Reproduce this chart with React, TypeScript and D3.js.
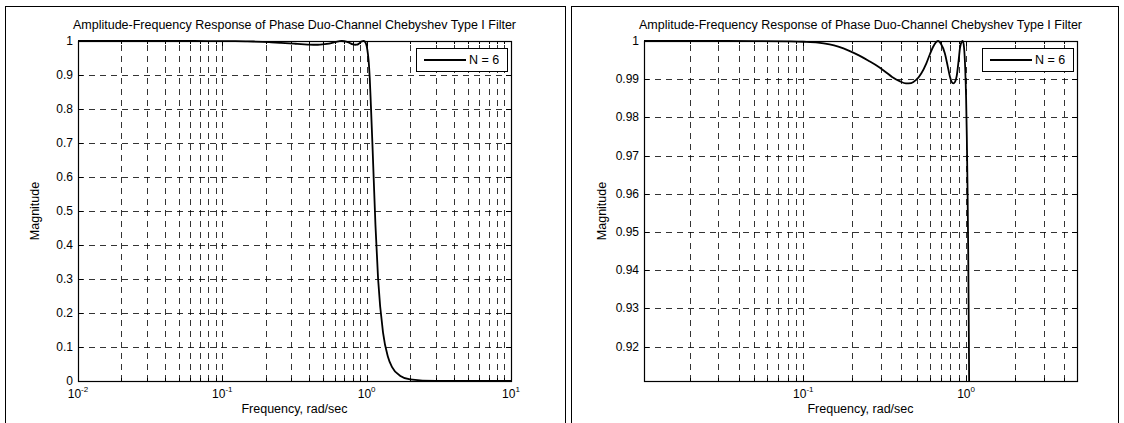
import React from 'react';
import * as d3 from 'd3';

// response (rad/sec -> magnitude)
const freq = [
  0.01, 0.02, 0.05, 0.08, 0.1, 0.123, 0.145, 0.164, 0.19, 0.218, 0.25, 0.291,
  0.32, 0.351, 0.39, 0.427, 0.46, 0.493, 0.53, 0.569, 0.6, 0.624, 0.65, 0.673,
  0.7, 0.74, 0.77, 0.795, 0.815, 0.834, 0.855, 0.875, 0.9, 0.918, 0.94, 0.954,
  0.97, 0.987, 1.0, 1.01, 1.02, 1.03, 1.04, 1.05, 1.07, 1.1, 1.15, 1.2, 1.3,
  1.4, 1.5, 1.7, 2.0, 3.0, 5.0, 10.0,
];
const magnitude = [
  1.0, 1.0, 0.99999, 0.9999, 0.9998, 0.9996, 0.9991, 0.9985, 0.9975, 0.9963,
  0.9949, 0.9932, 0.9919, 0.9906, 0.9895, 0.9889, 0.989, 0.9898, 0.9915,
  0.9941, 0.9966, 0.9983, 0.9996, 1.0, 0.9993, 0.9968, 0.9935, 0.9907, 0.9893,
  0.9889, 0.9893, 0.9908, 0.995, 0.9983, 0.9998, 1.0, 0.9985, 0.993, 0.985,
  0.975, 0.962, 0.945, 0.922, 0.892, 0.81, 0.68, 0.46, 0.3, 0.141, 0.073,
  0.041, 0.0157, 0.0049, 0.0003, 0.0, 0.0,
];

const title = 'Amplitude-Frequency Response of Phase Duo-Channel Chebyshev Type I Filter';
const xLabel = 'Frequency, rad/sec';
const yLabel = 'Magnitude';
const legendLabel = 'N = 6';

const fullTicks = [0, 0.1, 0.2, 0.3, 0.4, 0.5, 0.6, 0.7, 0.8, 0.9, 1];
const fullTickLabels = ['0', '0.1', '0.2', '0.3', '0.4', '0.5', '0.6', '0.7', '0.8', '0.9', '1'];
const zoomTicks = [0.92, 0.93, 0.94, 0.95, 0.96, 0.97, 0.98, 0.99, 1];
const zoomTickLabels = ['0.92', '0.93', '0.94', '0.95', '0.96', '0.97', '0.98', '0.99', '1'];

const FONT = '"Liberation Sans", Arial, Helvetica, sans-serif';
const crisp = (v: number) => Math.round(v) + 0.5;

type PanelProps = {
  id: string;
  frameX: number;
  frameW: number;
  left: number;
  ylabelX: number;
  xDomain: [number, number];
  yDomain: [number, number];
  yTicks: number[];
  yTickLabels: string[];
};

const Panel = ({ id, frameX, frameW, left, ylabelX, xDomain, yDomain, yTicks, yTickLabels }: PanelProps) => {
  const top = 41;
  const w = 433;
  const h = 340;
  const x = d3.scaleLog().domain(xDomain).range([left, left + w]);
  const y = d3.scaleLinear().domain(yDomain).range([top + h, top]);

  // decade + minor ticks of the log axis
  const logTicks: { v: number; major: boolean }[] = [];
  const e0 = Math.floor(Math.log10(xDomain[0]));
  const e1 = Math.ceil(Math.log10(xDomain[1]));
  for (let e = e0; e <= e1; e++) {
    for (let k = 1; k <= 9; k++) {
      const v = k * Math.pow(10, e);
      if (v >= xDomain[0] * 0.9999 && v <= xDomain[1] * 1.0001) logTicks.push({ v, major: k === 1 });
    }
  }

  const line = d3
    .line<number>()
    .x((_, i) => x(freq[i]))
    .y((d) => y(d))
    .curve(d3.curveMonotoneX);

  const bottom = top + h;
  const right = left + w;
  const lx = left + 338;
  const ly = 48;

  return (
    <g fontFamily={FONT} fill="#000">
      <defs>
        <clipPath id={id}>
          <rect x={left} y={top - 1} width={w} height={h + 2} />
        </clipPath>
      </defs>
      <rect x={frameX + 0.5} y={6.5} width={frameW} height={440} fill="none" stroke="#000" strokeWidth={1} />

      {/* grid */}
      <g stroke="#000" strokeWidth={0.8} strokeDasharray="6,5">
        {yTicks.map((t) => (
          <line key={'gy' + t} x1={left} x2={right} y1={crisp(y(t))} y2={crisp(y(t))} />
        ))}
        {logTicks.map((t) => (
          <line key={'gx' + t.v} x1={crisp(x(t.v))} x2={crisp(x(t.v))} y1={bottom} y2={top} />
        ))}
      </g>

      <path d={line(magnitude) || ''} fill="none" stroke="#000" strokeWidth={1.8} clipPath={`url(#${id})`} />

      {/* ticks */}
      <g stroke="#000" strokeWidth={1}>
        {yTicks.map((t) => (
          <g key={'ty' + t}>
            <line x1={left} x2={left + 5} y1={crisp(y(t))} y2={crisp(y(t))} />
            <line x1={right - 5} x2={right} y1={crisp(y(t))} y2={crisp(y(t))} />
          </g>
        ))}
        {logTicks.map((t) => (
          <g key={'tx' + t.v}>
            <line x1={crisp(x(t.v))} x2={crisp(x(t.v))} y1={bottom} y2={bottom - (t.major ? 5 : 3)} />
            <line x1={crisp(x(t.v))} x2={crisp(x(t.v))} y1={top} y2={top + (t.major ? 5 : 3)} />
          </g>
        ))}
      </g>
      <rect x={crisp(left)} y={crisp(top)} width={w} height={h} fill="none" stroke="#000" strokeWidth={1.2} />

      {/* labels */}
      <text x={(left + right) / 2} y={29} textAnchor="middle" fontSize={12.5}>{title}</text>
      {yTicks.map((t, i) => (
        <text key={'ly' + t} x={left - 5} y={y(t) + 4} textAnchor="end" fontSize={12}>{yTickLabels[i]}</text>
      ))}
      {logTicks.filter((t) => t.major).map((t) => (
        <text key={'lx' + t.v} x={x(t.v)} y={398} textAnchor="middle" fontSize={12}>
          10<tspan dy={-6} fontSize={8}>{Math.round(Math.log10(t.v))}</tspan>
        </text>
      ))}
      <text x={(left + right) / 2} y={413} textAnchor="middle" fontSize={12.5}>{xLabel}</text>
      <text transform={`translate(${ylabelX},${(top + bottom) / 2}) rotate(-90)`} textAnchor="middle" fontSize={12.5}>{yLabel}</text>

      {/* legend */}
      <rect x={crisp(lx)} y={crisp(ly)} width={91} height={23} fill="#fff" stroke="#000" strokeWidth={1} />
      <line x1={lx + 8} x2={lx + 50} y1={ly + 12} y2={ly + 12} stroke="#000" strokeWidth={1.8} />
      <text x={lx + 53} y={ly + 16} fontSize={12.5}>{legendLabel}</text>
    </g>
  );
};

export default function App() {
  return (
    <svg width={1124} height={423} style={{ position: 'absolute', left: 0, top: 0, background: '#fff' }}>
      <Panel id="clipA" frameX={5} frameW={560} left={78} ylabelX={39} xDomain={[0.01, 10]} yDomain={[0, 1]} yTicks={fullTicks} yTickLabels={fullTickLabels} />
      <Panel id="clipB" frameX={571} frameW={547} left={644} ylabelX={606} xDomain={[0.0105, 4.8]} yDomain={[0.911, 1]} yTicks={zoomTicks} yTickLabels={zoomTickLabels} />
    </svg>
  );
}
